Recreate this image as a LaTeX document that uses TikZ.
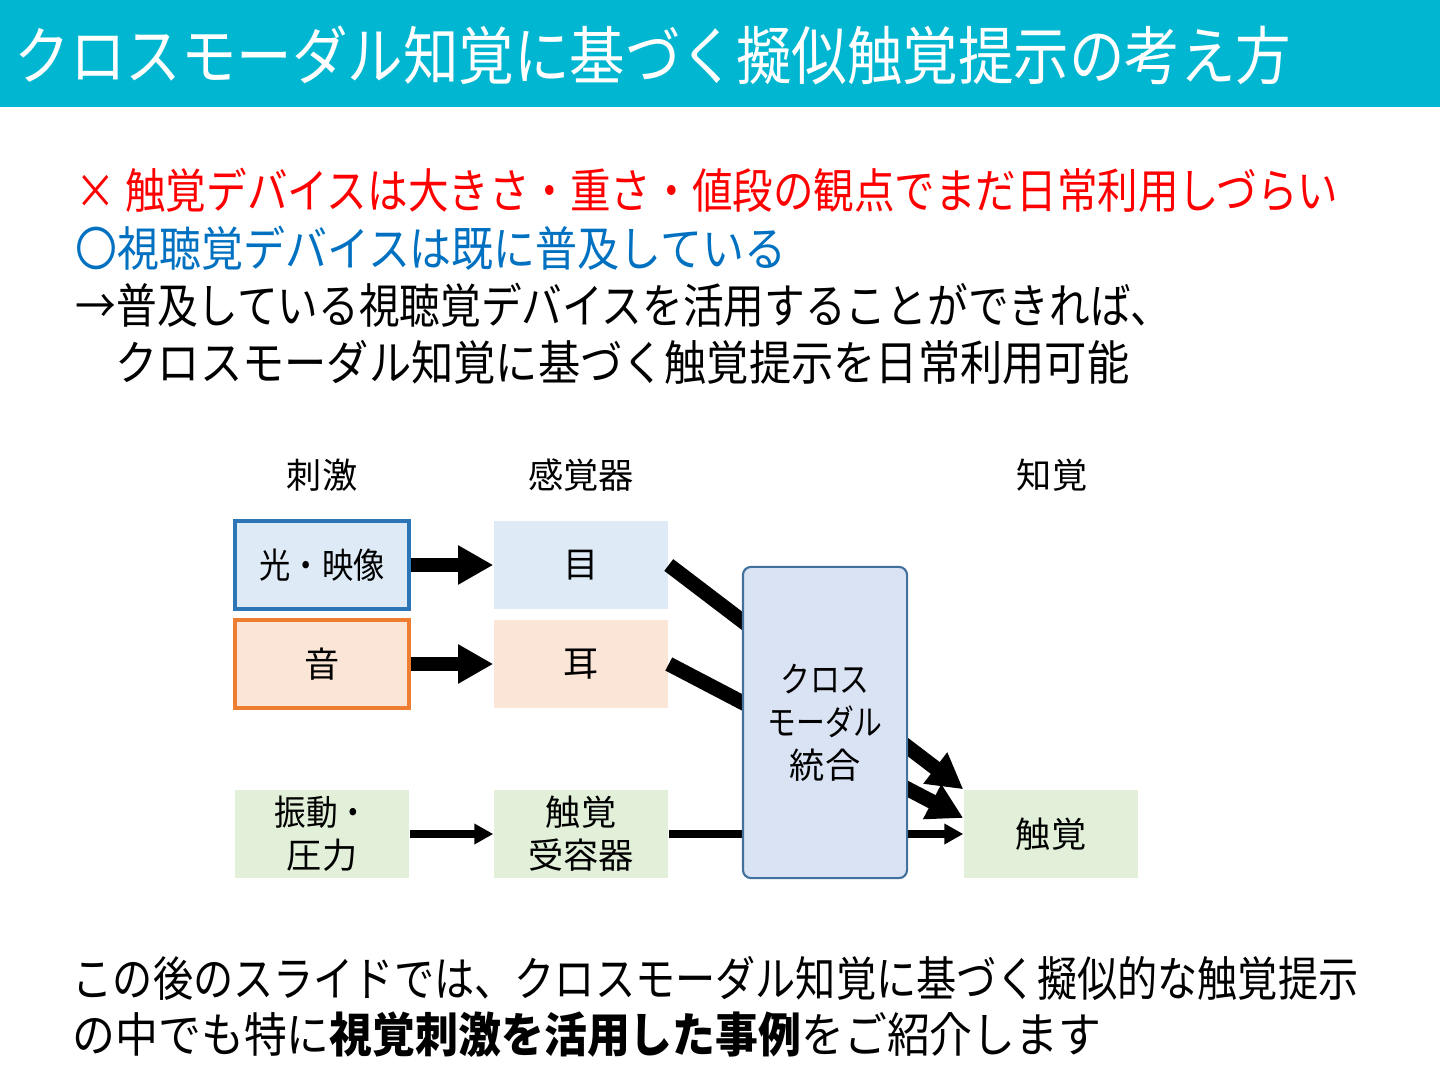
\documentclass[tikz,border=0pt]{standalone}
\usepackage{fontspec}
\usepackage{graphicx}
\setmainfont{Noto Sans CJK JP}
\usetikzlibrary{arrows.meta,calc}
\definecolor{barcyan}{RGB}{0,182,208}
\definecolor{txtred}{RGB}{255,0,0}
\definecolor{txtblue}{RGB}{0,112,192}
\definecolor{bluebd}{RGB}{46,117,182}
\definecolor{bluefill}{RGB}{222,235,247}
\definecolor{orangebd}{RGB}{237,125,49}
\definecolor{orangefill}{RGB}{251,229,214}
\definecolor{greenfill}{RGB}{226,240,217}
\definecolor{intfill}{RGB}{218,227,243}
\definecolor{intbd}{RGB}{65,113,156}
\newcommand\fitw[2]{\resizebox{#1}{\height}{#2}}
\newcommand\narrow[2]{\scalebox{#1}[1]{#2}}
\begin{document}
\begin{tikzpicture}[x=0.01cm,y=-0.01cm,
  txt/.style={inner sep=0pt, anchor=west},
  bodyfont/.style={font=\fontsize{13.5pt}{16pt}\selectfont},
  box/.style={minimum width=1.74cm, minimum height=0.88cm, inner sep=0pt, align=center,
              font=\fontsize{10pt}{12.2pt}\selectfont},
  head/.style={inner sep=0pt, font=\fontsize{10pt}{12.2pt}\selectfont},
  thickarrow/.style={line width=4.2pt, -{Triangle[length=10pt,width=10.5pt]}},
  thinarrow/.style={line width=2pt, -{Triangle[length=5.4pt,width=5.6pt]}}
]
\useasboundingbox (0,0) rectangle (1440,1080);
\fill[barcyan] (0,0) rectangle (1440,107);

% title and text
\node[txt, text=white, font=\fontsize{18pt}{21pt}\selectfont] (title) at (14,55)
  {\fitw{12.76cm}{クロスモーダル知覚に基づく擬似触覚提示の考え方}};
\node[txt, bodyfont, text=txtred] (l1) at (75,190)
  {\fitw{12.62cm}{× 触覚デバイスは大きさ・重さ・値段の観点でまだ日常利用しづらい}};
\node[txt, bodyfont, text=txtblue] (l2) at (75,248)
  {\fitw{7.10cm}{〇視聴覚デバイスは既に普及している}};
\node[txt, bodyfont] (l3) at (75,305)
  {\fitw{10.95cm}{→普及している視聴覚デバイスを活用することができれば、}};
\node[txt, bodyfont] (l4) at (115,362)
  {\fitw{10.13cm}{クロスモーダル知覚に基づく触覚提示を日常利用可能}};
\node[txt, bodyfont] (b1) at (72,978)
  {\fitw{12.85cm}{この後のスライドでは、クロスモーダル知覚に基づく擬似的な触覚提示}};
\node[txt, bodyfont] (b2) at (72,1035)
  {\fitw{10.28cm}{の中でも特に\textbf{視覚刺激を活用した事例}をご紹介します}};

% column heads
\node[head] (h1) at (322,475) {刺激};
\node[head] (h2) at (581,475) {感覚器};
\node[head] (h3) at (1052,475) {知覚};

% boxes
\node[box, draw=bluebd, fill=bluefill, line width=1.15pt] (hikari) at (322,565) {\narrow{0.89}{光・映像}};
\node[box, draw=orangebd, fill=orangefill, line width=1.15pt] (oto) at (322,664) {音};
\node[box, fill=bluefill] (me) at (581,565) {目};
\node[box, fill=orangefill] (mimi) at (581,664) {耳};
\node[box, fill=greenfill] (shindo) at (322,834) {\narrow{0.9}{振動・}\\圧力};
\node[box, fill=greenfill] (juyou) at (581,834) {触覚\\受容器};
\node[box, fill=greenfill] (shokkaku) at (1051,834) {触覚};

% connectors
\draw[thickarrow] (hikari) -- (me);
\draw[thickarrow] (oto) -- (mimi);
\draw[thinarrow] (shindo) -- (juyou);
\coordinate (earend) at ($(shokkaku.west)+(0,-16)$);
\draw[thickarrow] (me.east) -- (shokkaku.north west);
\draw[thickarrow] (mimi.east) -- (earend);
\draw[thinarrow] (juyou.east) -- (shokkaku.west);

% integration box on top
\node[draw=intbd, fill=intfill, line width=0.6pt, rounded corners=2.3pt,
      minimum width=1.64cm, minimum height=3.11cm, inner sep=0pt, align=center,
      font=\fontsize{10pt}{12.2pt}\selectfont] (togo) at (825,722.5)
      {\narrow{0.85}{クロス}\\\narrow{0.82}{モーダル}\\統合};
\end{tikzpicture}
\end{document}
